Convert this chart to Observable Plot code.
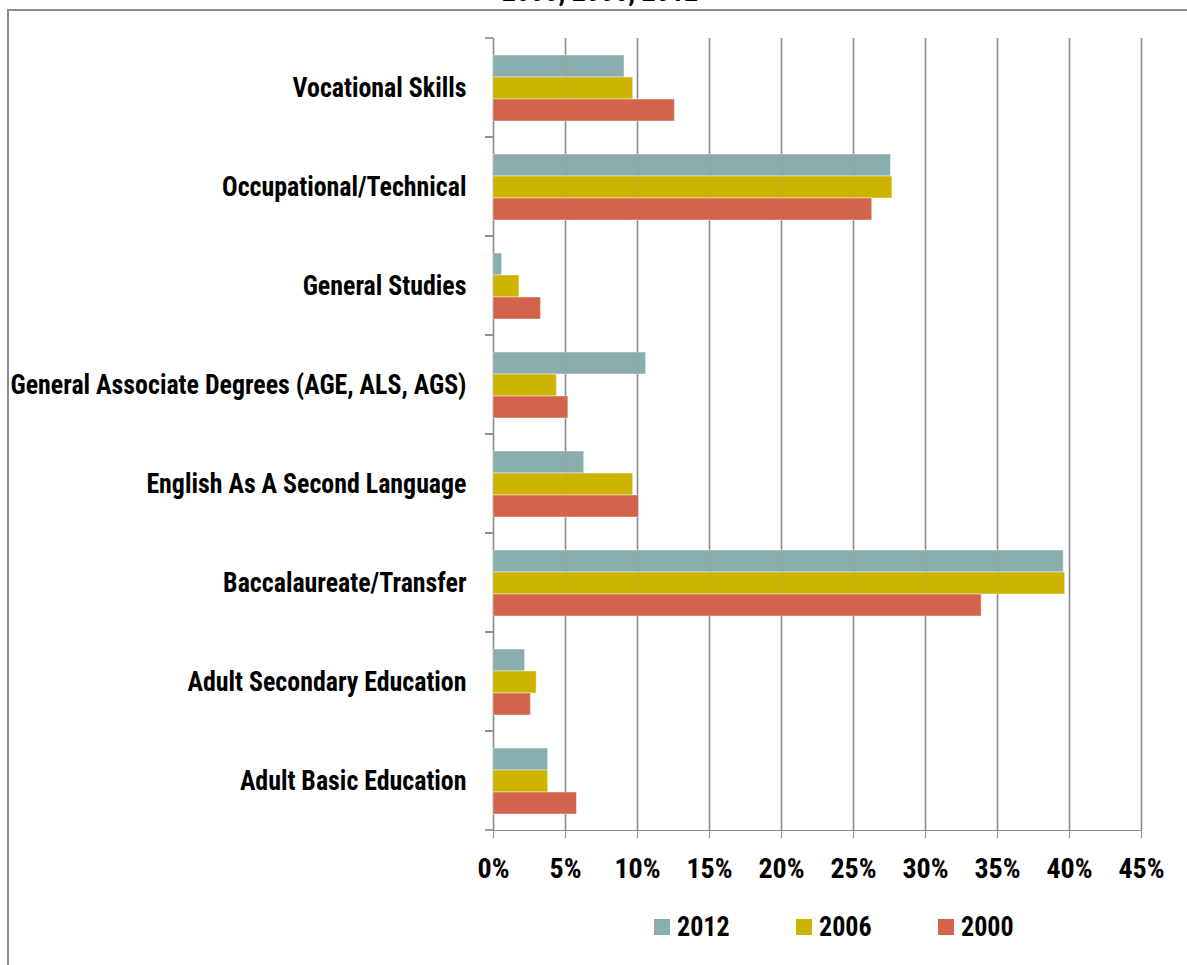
<!DOCTYPE html>
<html>
<head>
<meta charset="utf-8">
<script src="https://cdn.jsdelivr.net/npm/d3@7"></script>
<script src="https://cdn.jsdelivr.net/npm/@observablehq/plot@0.6"></script>
<style>
  body { margin: 0; background: #fff; }
  #wrap { position: relative; width: 1187px; height: 965px; overflow: hidden; background: #fff;
    font-family: "Liberation Sans Narrow", "Roboto Condensed", "DejaVu Sans Condensed", sans-serif; font-weight: bold; font-stretch: condensed; }
  #border { position: absolute; left: 7px; top: 9px; width: 1400px; height: 1200px; border-left: 2px solid #8c8c8c; border-top: 2px solid #8c8c8c; }
  #title { position: absolute; left: 0; top: -25px; width: 1200px; text-align: center; font-size: 28px; line-height: 34px; color: #000; }
  #chart { position: absolute; left: 0; top: 0; }
  #chart svg { color: #8c8c8c; }
  #chart svg text { fill: #000; }
  #legend { position: absolute; left: 654px; top: 910px; display: flex; align-items: center; font-size: 28px; color: #000; }
  .item { display: flex; align-items: center; width: 142px; }
  .sw { width: 16px; height: 16px; margin-right: 7px; flex: none; }
  .lab { display: inline-block; transform: scaleX(0.93); transform-origin: left center; }
</style>
</head>
<body>
<div id="wrap">
  <div id="border"></div>
  <div id="title">2000, 2006, 2012</div>
  <div id="chart"></div>
  <div id="legend"></div>
</div>
<script>
const categories = [
  "Vocational Skills",
  "Occupational/Technical",
  "General Studies",
  "General Associate Degrees (AGE, ALS, AGS)",
  "English As A Second Language",
  "Baccalaureate/Transfer",
  "Adult Secondary Education",
  "Adult Basic Education"
];
const series = ["2012", "2006", "2000"];
const seriesColors = ["#8aadad", "#cdb400", "#d3644b"];
const values2012 = [9.1, 27.6, 0.6, 10.6, 6.3, 39.6, 2.2, 3.8];
const values2006 = [9.7, 27.7, 1.8, 4.4, 9.7, 39.7, 3.0, 3.8];
const values2000 = [12.6, 26.3, 3.3, 5.2, 10.1, 33.9, 2.6, 5.8];
const xTicks = [0, 5, 10, 15, 20, 25, 30, 35, 40, 45];

const valuesBySeries = {"2012": values2012, "2006": values2006, "2000": values2000};
const rows = [];
categories.forEach((c, i) => series.forEach(s => rows.push({category: c, series: s, value: valuesBySeries[s][i] / 100})));
const tickVals = xTicks.map(t => t / 100);

function boundaryTicks(index, scales, values, dimensions) {
  const {marginTop, marginBottom, height} = dimensions;
  const x0 = scales.x(0);
  const g = d3.create("svg:g").attr("stroke", "#8c8c8c").attr("stroke-width", 1.6);
  for (const y of [marginTop, height - marginBottom]) {
    g.append("line").attr("x1", x0 - 8).attr("x2", x0).attr("y1", y).attr("y2", y);
  }
  return g.node();
}

const chart = Plot.plot({
  width: 1187,
  height: 965,
  marginLeft: 493,
  marginRight: 46,
  marginTop: 38,
  marginBottom: 135,
  style: {fontFamily: '"Liberation Sans Narrow", "Roboto Condensed", "DejaVu Sans Condensed", sans-serif', fontSize: "28px", fontWeight: "bold", background: "transparent", overflow: "visible"},
  x: {domain: [0, 0.45], ticks: tickVals, tickFormat: d3.format(".0%"), tickSize: 8, tickPadding: 20, label: null, line: true},
  y: {domain: series, paddingInner: 0, paddingOuter: 0.75, axis: null},
  fy: {domain: categories, padding: 0, label: null, tickSize: 0, tickPadding: 27},
  color: {domain: series, range: seriesColors},
  facet: {data: rows, y: "category"},
  marks: [
    Plot.ruleX(tickVals, {stroke: "#8c8c8c", strokeWidth: 1.6}),
    Plot.barX(rows, {x: "value", y: "series", fill: "series", stroke: "#ffffff", strokeOpacity: 0.45, strokeWidth: 1}),
    Plot.ruleX(tickVals, {stroke: "#8c8c8c", strokeWidth: 1.6, strokeOpacity: 0.12}),
    boundaryTicks
  ]
});
document.getElementById("chart").appendChild(chart);

// condense the category labels horizontally (the reference uses a condensed face)
const catSet = new Set(categories);
chart.querySelectorAll("text").forEach(t => {
  if (catSet.has(t.textContent)) {
    const len = t.getComputedTextLength();
    t.setAttribute("textLength", (len * 0.925).toFixed(1));
    t.setAttribute("lengthAdjust", "spacingAndGlyphs");
  }
});

const legend = d3.select("#legend");
series.forEach((s, i) => {
  const it = legend.append("div").attr("class", "item");
  it.append("div").attr("class", "sw").style("background", seriesColors[i]);
  it.append("span").attr("class", "lab").text(s);
});
</script>
</body>
</html>
